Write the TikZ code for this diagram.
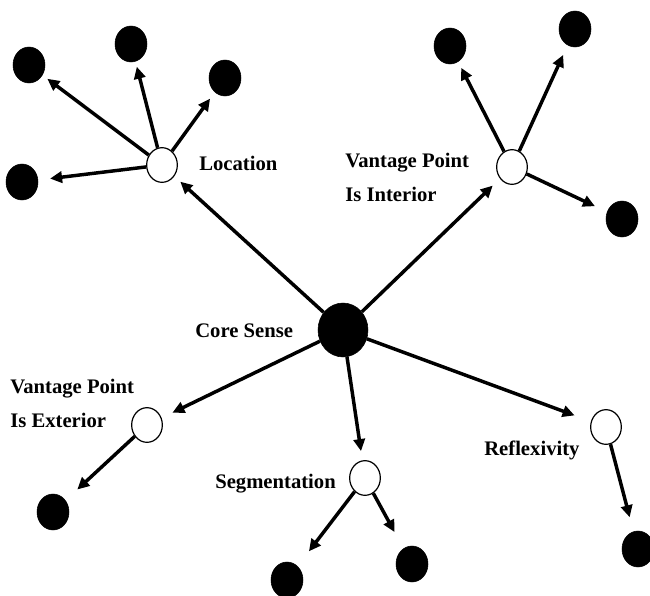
\documentclass[tikz,border=0pt]{standalone}
\usepackage{fontspec}
\setmainfont{Liberation Serif}
\usetikzlibrary{arrows.meta, positioning, shapes.geometric}

\begin{document}
\begin{tikzpicture}[
		x=0.75pt, y=-0.75pt,
		core/.style={
			ellipse,
			draw=black,
			fill=black,
			inner sep=0pt,
			minimum width=37.5pt,
			minimum height=40.5pt
		},
		sense/.style={
			ellipse,
			draw=black,
			fill=white,
			line width=0.9pt,
			inner sep=0pt,
			minimum width=23pt,
			minimum height=26pt
		},
		leaf/.style={
			ellipse,
			draw=black,
			fill=black,
			inner sep=0pt,
			minimum width=24pt,
			minimum height=27pt
		},
		sensename/.style={
			font=\bfseries\fontsize{15.5}{25.5}\selectfont,
			inner sep=0pt,
			align=left,
			anchor=base west
		},
		arrow/.style={
			line width=2.6pt,
			-{Triangle[length=9pt, width=8.5pt]},
		}
	]
	\useasboundingbox (0,0) rectangle (650,596);
	
	\node[core] (core) at (343,330) {};
	\node[sense] (loc) at (162,165) {};
	\node[sense] (vpi) at (512,167) {};
	\node[sense] (vpe) at (147,425) {};
	\node[sense] (seg) at (365,478) {};
	\node[sense] (refl) at (606,427) {};
	
	\node[leaf] (loc1) at (29,65) {};
	\node[leaf] (loc2) at (131,44) {};
	\node[leaf] (loc3) at (225,78) {};
	\node[leaf] (loc4) at (22,182) {};
	\node[leaf] (vpi1) at (450,46) {};
	\node[leaf] (vpi2) at (575,29) {};
	\node[leaf] (vpi3) at (622,219) {};
	\node[leaf] (vpe1) at (53,512) {};
	\node[leaf] (seg1) at (287,580) {};
	\node[leaf] (seg2) at (412,564) {};
	\node[leaf] (refl1) at (638,549) {};
	
	\node[sensename] (coretxt) at (195,337) {Core Sense};
	\node[sensename] (loctxt) at (199,170) {Location};
	\node[sensename] (vpitxt) at (345,201) {Vantage Point\\Is Interior};
	\node[sensename] (vpetxt) at (10,427) {Vantage Point\\Is Exterior};
	\node[sensename] (segtxt) at (215,488) {Segmentation};
	\node[sensename] (refltxt) at (484,455) {Reflexivity};
	
	\draw[arrow, shorten >=6pt] (core) -- (loc);
	\draw[arrow, shorten >=7.5pt] (core) -- (vpi);
	\draw[arrow, shorten >=9pt] (core) -- (vpe);
	\draw[arrow, shorten >=7pt] (core) -- (seg);
	\draw[arrow, shorten >=13pt] (core) -- (refl);
	
	\draw[arrow, shorten >=4.5pt] (loc) -- (loc1);
	\draw[arrow, shorten >=4pt] (loc) -- (loc2);
	\draw[arrow, shorten >=6pt] (loc) -- (loc3);
	\draw[arrow, shorten >=9pt] (loc) -- (loc4);
	\draw[arrow, shorten >=5pt] (vpi) -- (vpi1);
	\draw[arrow, shorten >=8pt] (vpi) -- (vpi2);
	\draw[arrow, shorten >=10pt] (vpi) -- (vpi3);
	\draw[arrow, shorten >=12pt] (vpe) -- (vpe1);
	\draw[arrow, shorten >=14pt] (seg) -- (seg1);
	\draw[arrow, shorten >=14pt] (seg) -- (seg2);
	\draw[arrow, shorten >=11pt] (refl) -- (refl1);
	
\end{tikzpicture}
\end{document}
